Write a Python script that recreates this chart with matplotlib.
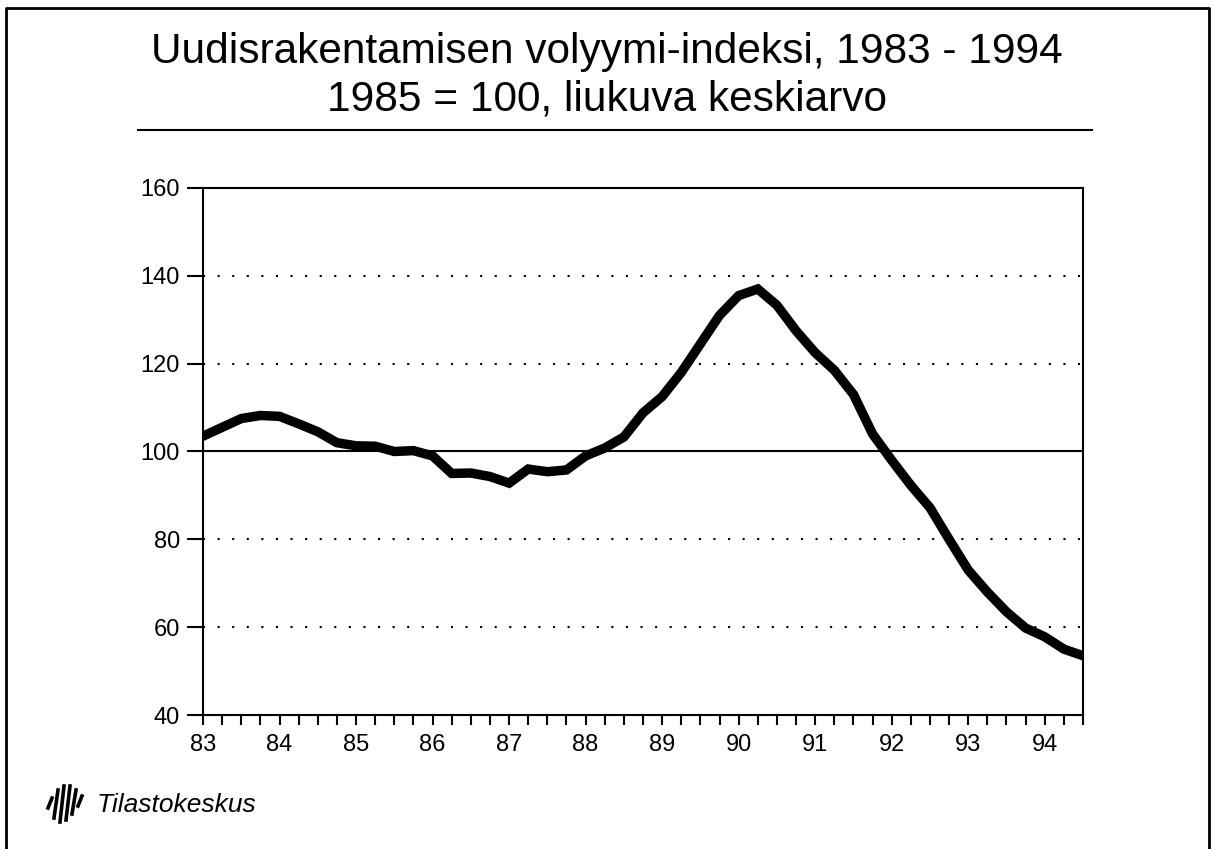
import matplotlib.pyplot as plt
import numpy as np
from matplotlib.lines import Line2D

# quarterly moving average, 1983 Q1 .. 1994 Q3
values = [103.5, 105.5, 107.5, 108.2, 108.0, 106.3, 104.5, 102.0,
          101.3, 101.2, 100.0, 100.2, 99.0, 95.0, 95.1, 94.3,
          92.8, 96.0, 95.4, 95.8, 99.0, 100.8, 103.3, 108.8,
          112.5, 118.0, 124.5, 131.0, 135.5, 137.0, 133.3, 127.5,
          122.5, 118.5, 113.0, 104.0, 98.0, 92.3, 87.2, 80.0,
          73.0, 68.0, 63.5, 59.8, 57.8, 55.0, 53.5]
x = 83 + np.arange(len(values)) / 4.0
year_ticks = list(range(83, 95))
year_labels = [str(y) for y in year_ticks]
y_ticks = [40, 60, 80, 100, 120, 140, 160]
grid_levels = [60, 80, 120, 140]

W, H = 1214, 849
plt.rcParams['font.family'] = ['Liberation Sans', 'DejaVu Sans']
fig = plt.figure(figsize=(W / 100, H / 100), dpi=100)
ax = fig.add_axes([203 / W, 1 - 715 / H, (1083 - 203) / W, (715 - 188) / H])

for g in grid_levels:
    ax.axhline(g, color='black', lw=1.5, linestyle=(0, (1, 6)), zorder=1)
ax.axhline(100, color='black', lw=1.5, zorder=2)

ax.plot(x, values, color='black', lw=6.8, solid_joinstyle='miter', zorder=3)

ax.set_xlim(83, 94.5)
ax.set_ylim(40, 160)
ax.set_yticks(y_ticks)
ax.set_xticks(year_ticks)
ax.set_xticklabels(year_labels)
ax.set_xticks(np.arange(83, 94.51, 0.25), minor=True)
ax.tick_params(axis='y', direction='out', length=11.5, width=1.5, pad=5, labelsize=17)
ax.tick_params(axis='x', which='both', direction='out', length=7, width=1.5, pad=7, labelsize=17)
for s in ax.spines.values():
    s.set_linewidth(1.5)

# title
fig.text(0.5, 1 - 63 / H, 'Uudisrakentamisen volyymi-indeksi, 1983 - 1994',
         ha='center', va='baseline', fontsize=30.5)
fig.text(0.5, 1 - 111 / H, '1985 = 100, liukuva keskiarvo',
         ha='center', va='baseline', fontsize=30.5)
fig.add_artist(Line2D([138 / W, 1092 / W], [1 - 130 / H, 1 - 130 / H],
                      transform=fig.transFigure, color='black', lw=1.5))

# frame around page
fig.add_artist(Line2D([6 / W, 6 / W, 1209 / W, 1209 / W],
                      [0, 1 - 8 / H, 1 - 8 / H, 0],
                      transform=fig.transFigure, color='black', lw=2))

# logo
bar_x = [50, 56, 62, 68, 74, 80]
bar_top = [798, 790, 786, 786, 790, 796]
bar_bot = [808, 818, 822, 820, 814, 806]
for bx, bt, bb in zip(bar_x, bar_top, bar_bot):
    fig.add_artist(Line2D([(bx + 2) / W, (bx - 2) / W], [1 - bt / H, 1 - bb / H],
                          transform=fig.transFigure, color='black', lw=2.6))
fig.text(97 / W, 1 - 812 / H, 'Tilastokeskus', ha='left', va='baseline',
         fontsize=19, style='italic')

fig.savefig('out.png', dpi=100)
